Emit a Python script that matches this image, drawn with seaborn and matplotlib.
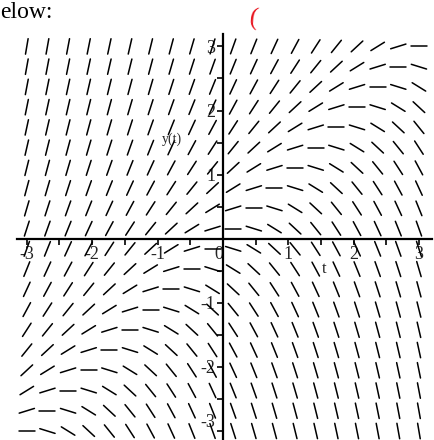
import numpy as np
import pandas as pd
import matplotlib
matplotlib.use("Agg")
import matplotlib.pyplot as plt
import seaborn as sns

# Grid of sample points for the direction field of y' = y - t
t_values = np.linspace(-3, 3, 20)
y_values = np.linspace(-3, 3, 20)

x_ticks = [-3, -2, -1, 0, 1, 2, 3]
x_tick_labels = ["-3", "-2", "-1", "0", "1", "2", "3"]
y_ticks = [-3, -2, -1, 1, 2, 3]
y_tick_labels = ["-3", "-2", "-1", "1", "2", "3"]


def slope(t, y):
    return y - t


seg_len = 0.245
rows = []
seg = 0
for t in t_values:
    for y in y_values:
        m = slope(t, y)
        dt = 0.5 * seg_len / np.sqrt(1 + m * m)
        dy = m * dt
        rows.append((seg, t - dt, y - dy))
        rows.append((seg, t + dt, y + dy))
        seg += 1
field = pd.DataFrame(rows, columns=["seg", "t", "y"])

sns.set_style("white")
plt.rcParams["font.family"] = ["Liberation Serif", "DejaVu Serif"]

fig = plt.figure(figsize=(4.35, 4.40), dpi=100)
ax = fig.add_axes([17 / 435, 0.0, 415 / 435, 406.4 / 440])

sns.lineplot(data=field, x="t", y="y", units="seg", estimator=None,
             sort=False, color="black", linewidth=1.1, ax=ax, legend=False)

ax.set_xlim(-3.15, 3.2)
ax.set_ylim(-3.14, 3.2)
ax.set_xlabel("")
ax.set_ylabel("")

# Axes drawn through the origin
for side in ("top", "right"):
    ax.spines[side].set_visible(False)
ax.spines["left"].set_position(("data", 0))
ax.spines["bottom"].set_position(("data", 0))
for side in ("left", "bottom"):
    ax.spines[side].set_linewidth(1.6)
    ax.spines[side].set_color("black")

ax.set_xticks(x_ticks)
ax.set_xticklabels(x_tick_labels)
ax.set_yticks(y_ticks)
ax.set_yticklabels(y_tick_labels)
ax.set_xticks(np.arange(-3, 3.01, 0.5), minor=True)
ax.set_yticks(np.arange(-3, 3.01, 0.5), minor=True)
ax.tick_params(which="both", direction="out", length=4.5, width=1.2,
               color="black", labelsize=13, pad=1.0)
ax.tick_params(axis="x", which="both", bottom=True)
ax.tick_params(axis="y", which="both", left=True)
for lab in ax.get_xticklabels():
    if lab.get_text() == "0":
        lab.set_horizontalalignment("right")
for lab in ax.get_yticklabels():
    if lab.get_text() == "-3":
        lab.set_verticalalignment("bottom")

ax.text(-0.78, 1.55, "y(t)", fontsize=10, ha="center", va="center")
ax.text(1.55, -0.48, "t", fontsize=12, ha="center", va="center")

fig.text(0.0, 1 - 18 / 440, "elow:", fontsize=17, ha="left", va="baseline",
         color="black")
fig.text(254 / 435, 1 - 19 / 440, "(", fontsize=18, ha="center", va="center",
         color="#e8121c", rotation=-8)

fig.savefig("out.png", dpi=100)
